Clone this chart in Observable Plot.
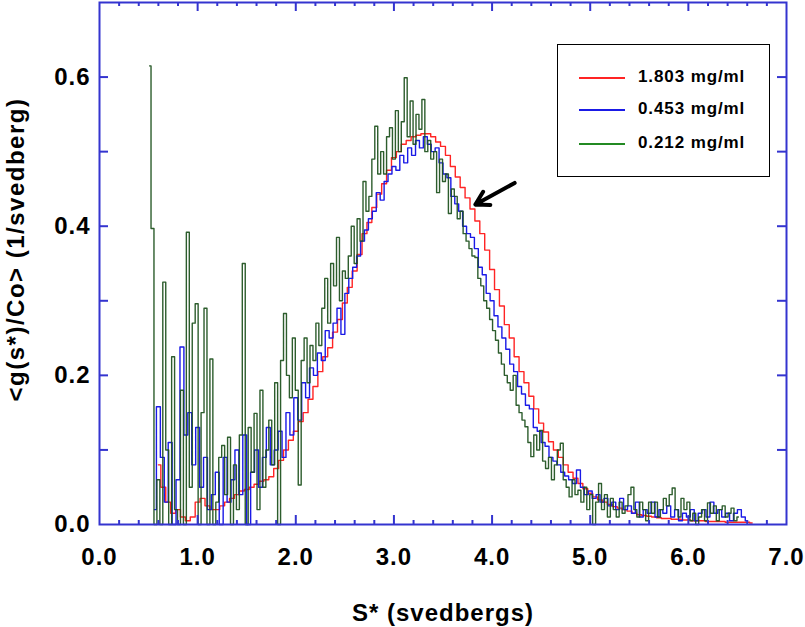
<!DOCTYPE html>
<html>
<head>
<meta charset="utf-8">
<script src="https://cdn.jsdelivr.net/npm/d3@7"></script>
<script src="https://cdn.jsdelivr.net/npm/@observablehq/plot@0.6"></script>
<style>
  body { margin: 0; background: #fff; }
  #wrap { position: relative; width: 805px; height: 627px; font-family: "Liberation Sans", Arial, sans-serif; }
  #legend { position: absolute; left: 557px; top: 44px; width: 213px; height: 133px; border: 1.5px solid #000; box-sizing: border-box; background: #fff; }
  .row { position: absolute; left: 0; height: 20px; width: 100%; }
  .row .ln { position: absolute; left: 21px; width: 46px; top: 9px; height: 0; border-top: 2px solid; }
  .row .tx { position: absolute; left: 80px; top: -1px; font-size: 17px; font-weight: bold; letter-spacing: 0.9px; color: #000; white-space: nowrap; }
</style>
</head>
<body>
<div id="wrap"></div>
<script>
// ---- data ----
const seriesNames = ["1.803 mg/ml", "0.453 mg/ml", "0.212 mg/ml"];
const seriesColors = ["#ff2424", "#1a1ae6", "#1b4f1b"];
const legendColors = ["#ff2424", "#1a1ae6", "#238a23"];

const redStart = 0.60, redStep = 0.05;
const redValues = [0.08,0.05,0.03,0.015,0.02,0.01,0.005,0.01,0.03,0.035,0.025,0.02,0.02,0.025,0.03,0.035,0.04,0.045,0.047,0.05,
  0.054,0.058,0.06,0.064,0.075,0.086,0.10,0.113,0.125,0.138,0.15,0.168,0.185,0.205,0.225,0.237,0.258,0.275,0.297,0.318,
  0.34,0.362,0.39,0.405,0.425,0.443,0.457,0.475,0.492,0.50,0.51,0.515,0.52,0.522,0.524,0.524,0.52,0.513,0.507,0.495,
  0.48,0.466,0.452,0.438,0.423,0.407,0.39,0.368,0.342,0.315,0.293,0.268,0.25,0.225,0.205,0.19,0.172,0.155,0.136,0.124,
  0.111,0.10,0.09,0.08,0.07,0.062,0.055,0.048,0.042,0.037,0.033,0.03,0.027,0.024,0.022,0.02,0.018,0.015,0.013,0.012,
  0.011,0.01,0.009,0.008,0.008,0.007,0.007,0.006,0.006,0.005,0.005,0.005,0.004,0.004,0.004,0.004,0.003,0.003,0.003,0.003,
  0.003,0.002];

const blueStart = 0.56, blueStep = 0.04;
const blueValues = [0.02,0.158,0.09,0.03,0.11,0.0,0.06,0.238,0.12,0.15,0.08,0.13,0.05,0.09,0.02,0.04,0.07,0.0,0.09,0.03,
  0.06,0.10,0.04,0.12,0.0,0.07,0.10,0.05,0.09,0.13,0.08,0.10,0.125,0.09,0.15,0.12,0.17,0.14,0.19,0.17,
  0.21,0.20,0.23,0.22,0.26,0.25,0.27,0.29,0.255,0.31,0.33,0.345,0.36,0.38,0.395,0.41,0.42,0.445,0.435,0.46,
  0.47,0.48,0.475,0.495,0.485,0.505,0.495,0.515,0.505,0.52,0.51,0.50,0.505,0.485,0.47,0.465,0.44,0.43,0.42,0.40,
  0.39,0.385,0.37,0.345,0.335,0.31,0.30,0.28,0.265,0.25,0.235,0.215,0.205,0.185,0.175,0.16,0.155,0.13,0.125,0.11,
  0.105,0.09,0.085,0.08,0.07,0.065,0.06,0.055,0.073,0.05,0.04,0.045,0.035,0.04,0.03,0.035,0.025,0.03,0.02,0.035,
  0.02,0.025,0.015,0.03,0.01,0.02,0.015,0.03,0.01,0.02,0.015,0.025,0.01,0.02,0.005,0.015,0.01,0.02,0.005,0.015,
  0.02,0.01,0.03,0.015,0.02,0.01,0.015,0.005,0.015,0.02,0.01,0.005];

const greenStart = 0.51, greenStep = 0.03;
const greenValues = [0.615,0.397,0.0,0.06,0.0,0.325,0.10,0.0,0.225,0.02,0.0,0.18,0.0,0.392,0.05,0.27,0.296,0.0,0.15,0.29,
  0.0,0.222,0.0,0.03,0.09,0.106,0.04,0.117,0.0,0.08,0.02,0.12,0.35,0.0,0.13,0.07,0.149,0.02,0.18,0.05,
  0.10,0.14,0.08,0.19,0.0,0.22,0.283,0.20,0.17,0.25,0.18,0.053,0.22,0.25,0.19,0.24,0.22,0.27,0.24,0.29,
  0.33,0.27,0.35,0.32,0.385,0.30,0.34,0.33,0.36,0.40,0.35,0.41,0.38,0.46,0.42,0.44,0.49,0.534,0.47,0.50,
  0.47,0.52,0.532,0.49,0.555,0.50,0.54,0.599,0.52,0.568,0.51,0.55,0.53,0.57,0.50,0.515,0.49,0.50,0.445,0.49,
  0.46,0.47,0.417,0.45,0.44,0.41,0.42,0.39,0.38,0.37,0.36,0.358,0.33,0.32,0.30,0.29,0.275,0.26,0.247,0.23,
  0.215,0.20,0.19,0.18,0.20,0.16,0.15,0.14,0.131,0.11,0.091,0.12,0.10,0.126,0.085,0.075,0.09,0.06,0.08,0.10,
  0.109,0.06,0.05,0.037,0.06,0.04,0.046,0.03,0.05,0.02,0.04,0.0,0.03,0.055,0.02,0.04,0.01,0.035,0.02,0.01,
  0.03,0.015,0.025,0.04,0.05,0.02,0.01,0.03,0.02,0.005,0.03,0.015,0.03,0.01,0.02,0.035,0.025,0.04,0.049,0.02,
  0.01,0.035,0.02,0.03,0.005,0.015,0.0,0.01,0.02,0.005,0.029,0.015,0.025,0.005,0.02,0.025,0.01,0.015,0.022,0.005,
  0.01];

const xLabelTicks = [0, 1, 2, 3, 4, 5, 6, 7];
const xMinorTicks = [0.2,0.4,0.6,0.8,1.2,1.4,1.6,1.8,2.2,2.4,2.6,2.8,3.2,3.4,3.6,3.8,4.2,4.4,4.6,4.8,5.2,5.4,5.6,5.8,6.2,6.4,6.6,6.8];
const xMajorTicks = [1, 2, 3, 4, 5, 6];
const yLabelTicks = [0, 0.2, 0.4, 0.6];
const yTicks = [0.1, 0.2, 0.3, 0.4, 0.5, 0.6];

const xTitle = "S* (svedbergs)";
const yTitle = "<g(s*)/Co> (1/svedberg)";

// arrow annotation (data units)
const arrowFrom = [4.23, 0.458];
const arrowTo = [3.83, 0.429];

// ---- build rows ----
function rows(start, step, vals) {
  return vals.map((v, i) => ({s: +(start + i * step).toFixed(3), v}));
}
const red = rows(redStart, redStep, redValues);
const blue = rows(blueStart, blueStep, blueValues);
const green = rows(greenStart, greenStep, greenValues);

const W = 805, H = 627, mL = 99, mR = 19, mT = 2, mB = 103;
const pw = W - mL - mR, ph = H - mT - mB;
const axisBlue = "#3434cf";

const chart = Plot.plot({
  width: W, height: H,
  marginLeft: mL, marginRight: mR, marginTop: mT, marginBottom: mB,
  x: {domain: [0, 7]},
  y: {domain: [0, 0.7]},
  style: {fontFamily: "'Liberation Sans', Arial, sans-serif", fontSize: "24px", fontWeight: "bold", letterSpacing: "1px", background: "transparent", color: "#000"},
  marks: [
    Plot.line(red, {x: "s", y: "v", stroke: seriesColors[0], strokeWidth: 1.4, curve: "step"}),
    Plot.line(blue, {x: "s", y: "v", stroke: seriesColors[1], strokeWidth: 1.4, curve: "step"}),
    Plot.line(green, {x: "s", y: "v", stroke: seriesColors[2], strokeWidth: 1.4, curve: "step", strokeOpacity: 0.92}),
    Plot.arrow([{x1: arrowFrom[0], y1: arrowFrom[1], x2: arrowTo[0], y2: arrowTo[1]}],
      {x1: "x1", y1: "y1", x2: "x2", y2: "y2", stroke: "#000", strokeWidth: 4, headLength: 13}),
    // inward ticks
    Plot.tickX(xMinorTicks, {x: d => d, stroke: axisBlue, strokeWidth: 2, insetTop: ph - 4}),
    Plot.tickX(xMajorTicks, {x: d => d, stroke: axisBlue, strokeWidth: 2, insetTop: ph - 9}),
    Plot.tickX(xMinorTicks, {x: d => d, stroke: axisBlue, strokeWidth: 2, insetBottom: ph - 4}),
    Plot.tickX(xMajorTicks, {x: d => d, stroke: axisBlue, strokeWidth: 2, insetBottom: ph - 9}),
    Plot.tickY(yTicks, {y: d => d, stroke: axisBlue, strokeWidth: 2, insetRight: pw - 9}),
    Plot.tickY(yTicks, {y: d => d, stroke: axisBlue, strokeWidth: 2, insetLeft: pw - 9}),
    Plot.frame({stroke: axisBlue, strokeWidth: 2}),
    // labels
    Plot.axisX(xLabelTicks, {tickSize: 0, tickPadding: 23, tickFormat: d => d.toFixed(1), label: null, fill: "#000"}),
    Plot.axisY(yLabelTicks, {tickSize: 0, tickPadding: 9, tickFormat: d => d.toFixed(1), label: null, fill: "#000"}),
    Plot.text([xTitle], {text: d => d, frameAnchor: "bottom", lineAnchor: "top", dy: 79, fontSize: 24, fontWeight: "bold", fill: "#000"}),
    Plot.text([yTitle], {text: d => d, frameAnchor: "left", textAnchor: "middle", rotate: -90, dx: -83, dy: -14, fontSize: 24, fontWeight: "bold", fill: "#000"})
  ]
});

const wrap = document.getElementById("wrap");
wrap.appendChild(chart);

// slightly wider tracking on the y title, as in the reference
d3.select(chart).selectAll("text").filter(function() { return this.textContent === yTitle; })
  .attr("letter-spacing", "1.5px");

// legend box
const legend = document.createElement("div");
legend.id = "legend";
const rowTops = [23, 55, 89];
seriesNames.forEach((name, i) => {
  const r = document.createElement("div");
  r.className = "row";
  r.style.top = rowTops[i] + "px";
  const ln = document.createElement("div");
  ln.className = "ln";
  ln.style.borderTopColor = legendColors[i];
  const tx = document.createElement("div");
  tx.className = "tx";
  tx.textContent = name;
  r.appendChild(ln); r.appendChild(tx);
  legend.appendChild(r);
});
wrap.appendChild(legend);
</script>
</body>
</html>
